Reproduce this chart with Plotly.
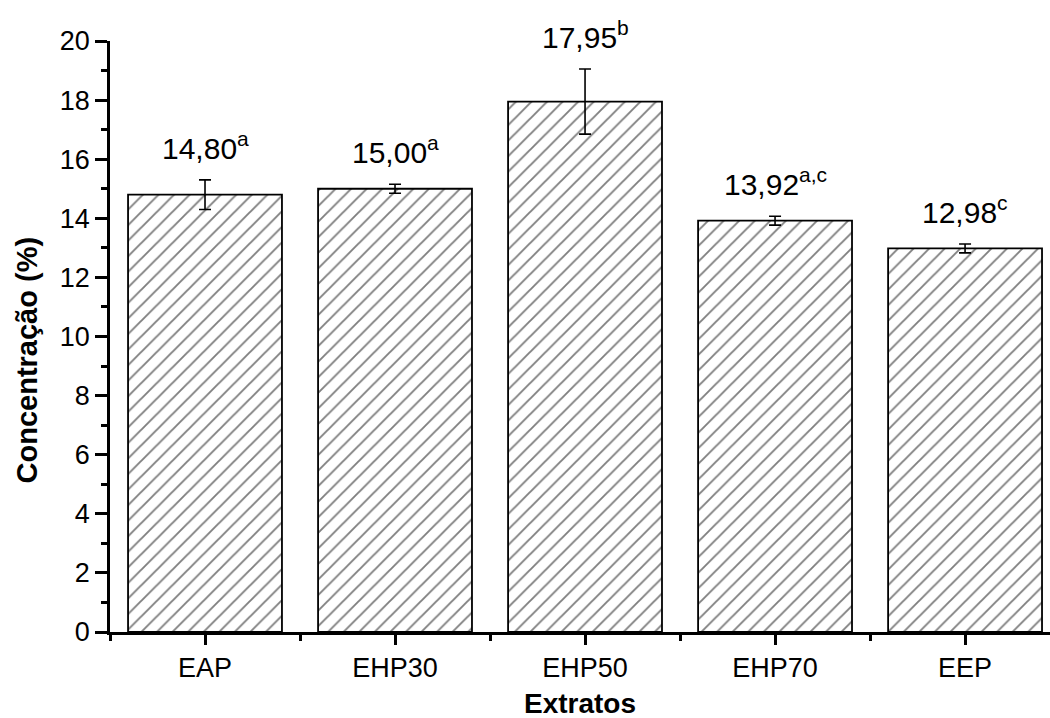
import plotly.graph_objects as go

categories = ["EAP", "EHP30", "EHP50", "EHP70", "EEP"]
values = [14.80, 15.00, 17.95, 13.92, 12.98]
errors = [0.50, 0.15, 1.10, 0.15, 0.15]
value_labels = ["14,80", "15,00", "17,95", "13,92", "12,98"]
letters = ["a", "a", "b", "a,c", "c"]
y_ticks = [0, 2, 4, 6, 8, 10, 12, 14, 16, 18, 20]

xpos = list(range(len(categories)))
FONT = "Liberation Sans, Arial, sans-serif"

fig = go.Figure()
fig.add_trace(go.Bar(
    x=xpos, y=values, width=0.81,
    marker=dict(color="white", line=dict(color="black", width=1.8),
                pattern=dict(shape="/", fgcolor="black", bgcolor="white", size=11, solidity=0.17)),
    error_y=dict(type="data", array=errors, visible=True, color="black", thickness=1.6, width=6),
    showlegend=False,
))

for xi, v, e, lab, let in zip(xpos, values, errors, value_labels, letters):
    fig.add_annotation(x=xi, y=v + e, text=f"{lab}<sup>{let}</sup>", showarrow=False,
                       yanchor="bottom", yshift=13, font=dict(size=30, color="black", family=FONT))

# y-axis title placed as annotation (sits slightly below the axis centre in the reference)
fig.add_annotation(text="<b>Concentração (%)</b>", xref="paper", yref="paper",
                   x=-0.088, y=0.46, xanchor="center", yanchor="middle", textangle=-90,
                   showarrow=False, font=dict(size=29, color="black", family=FONT))

# x-axis title as annotation
fig.add_annotation(text="<b>Extratos</b>", xref="paper", yref="paper",
                   x=0.5, y=-0.121, xanchor="center", yanchor="middle",
                   showarrow=False, font=dict(size=28, color="black", family=FONT))

fig.update_layout(
    width=1050, height=718,
    margin=dict(l=110, r=0, t=41, b=86),
    plot_bgcolor="white", paper_bgcolor="white",
    font=dict(family=FONT, color="black", size=27),
)
fig.update_xaxes(
    range=[-0.5, 4.447], tickvals=xpos, ticktext=categories,
    showline=True, linecolor="black", linewidth=2.5, showgrid=False, zeroline=False,
    ticks="outside", ticklen=10, tickwidth=2.5, tickcolor="black",
    minor=dict(tickvals=[-0.5, 0.5, 1.5, 2.5, 3.5], ticks="outside", ticklen=6, tickwidth=2.5, tickcolor="black"),
    tickfont=dict(size=27, family=FONT),
)
fig.update_yaxes(
    range=[0, 20], tickvals=y_ticks,
    showline=True, linecolor="black", linewidth=2.5, showgrid=False, zeroline=False,
    ticks="outside", ticklen=12, tickwidth=2.5, tickcolor="black",
    minor=dict(dtick=1, ticks="outside", ticklen=6, tickwidth=2.5, tickcolor="black", showgrid=False),
    tickfont=dict(size=27, family=FONT),
)

fig.write_html("out.html")
